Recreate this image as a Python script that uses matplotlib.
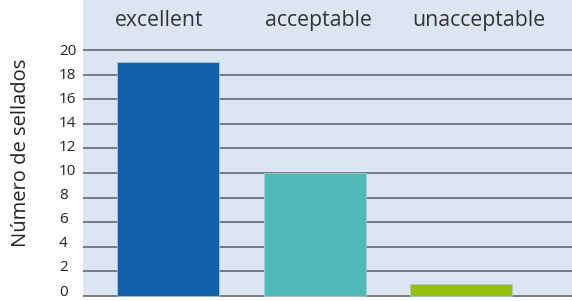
import matplotlib

matplotlib.use("Agg")
import matplotlib.pyplot as plt  # noqa: E402
from matplotlib.transforms import ScaledTranslation, blended_transform_factory  # noqa: E402

categories = ["excellent", "acceptable", "unacceptable"]
counts = [19, 10, 1]
bar_colors = ["#1460a8", "#4fbab7", "#95c00f"]
yticks = [0, 2, 4, 6, 8, 10, 12, 14, 16, 18, 20]

# header labels are spread a bit wider than the bars (axes fraction)
label_pos = [0.155, 0.482, 0.81]

plt.rcParams["font.family"] = ["Open Sans", "DejaVu Sans"]

fig = plt.figure(figsize=(5.72, 3.01), dpi=100)
ax = fig.add_axes([83 / 572, 4 / 301, 489 / 572, 297 / 301])
ax.set_facecolor("#dce6f2")

x = list(range(len(categories)))
ax.bar(x, counts, width=0.695, color=bar_colors, edgecolor="#a9c9dc",
       linewidth=0.6, zorder=3)

# gridlines + tick labels sitting left of the shaded panel
ytrans = ax.get_yaxis_transform()
for yv in yticks:
    ax.axhline(yv, color="#6b7177", linewidth=1.3, zorder=2)
    lift = ScaledTranslation(0, (4 - yv * 0.27) / 100, fig.dpi_scale_trans)
    ax.text(-24 / 489, yv, str(yv), ha="left", va="center", fontsize=11,
            color="#222222", transform=ytrans + lift, clip_on=False)

head = blended_transform_factory(ax.transAxes, ax.transData)
for xp, name in zip(label_pos, categories):
    ax.text(xp, 22.4, name, ha="center", va="center", fontsize=15.3,
            color="#333333", transform=head)

ax.set_xlim(-0.579, 2.753)
ax.set_ylim(-0.08, 24.07)
ax.set_xticks([]); ax.set_yticks([])
for s in ax.spines.values():
    s.set_visible(False)

fig.text(21 / 572, 1 - 153 / 301, "Número de sellados", rotation=90,
         ha="center", va="center", fontsize=14.5, color="#222222")

fig.savefig("out.png", dpi=100)
